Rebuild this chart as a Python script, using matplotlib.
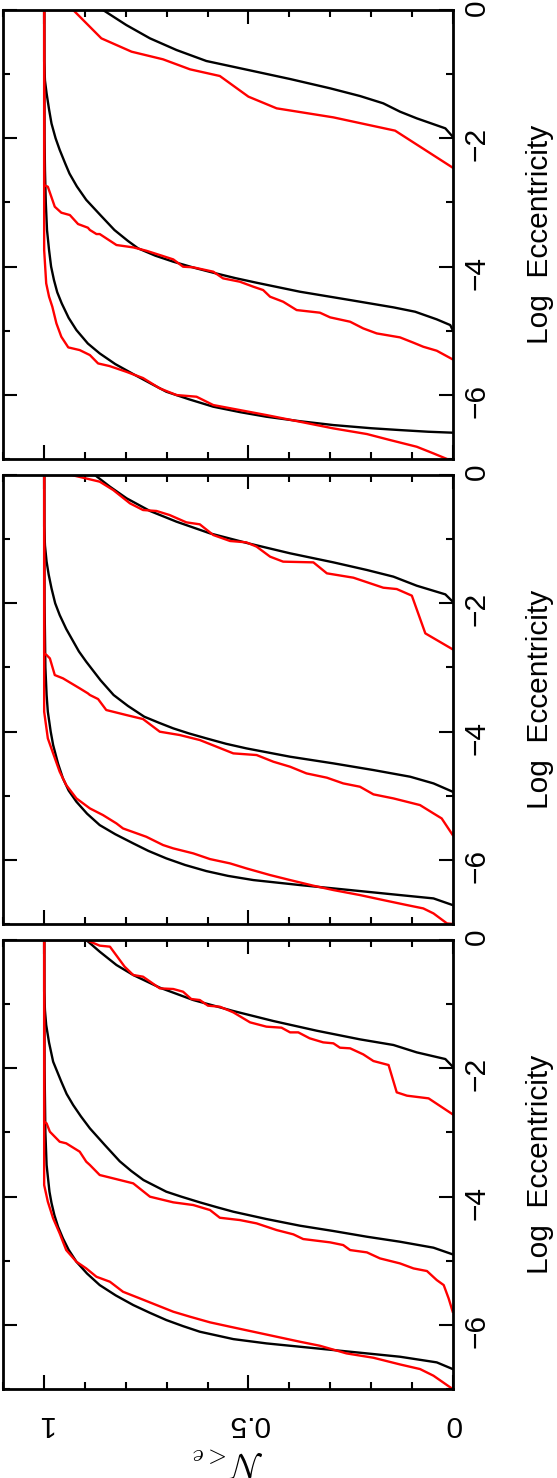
import numpy as np
import matplotlib.pyplot as plt
from matplotlib.ticker import MultipleLocator

plt.rcParams['font.family'] = ['Liberation Sans', 'DejaVu Sans']
plt.rcParams['mathtext.fontset'] = 'cm'

# each curve is a list of (log eccentricity, N(<e)) pairs
# panels listed top -> bottom as they appear in the (rotated) page

# ---- top panel
top_black_a = [(0, 0.856), (-0.234, 0.799), (-0.442, 0.741), (-0.624, 0.676), (-0.795, 0.603),
               (-0.936, 0.500), (-1.076, 0.398), (-1.221, 0.300), (-1.341, 0.227), (-1.455, 0.170),
               (-1.585, 0.129), (-1.689, 0.088), (-1.845, 0.018), (-1.975, 0.0)]
top_red_a = [(0, 1.0), (0, 0.929), (-0.442, 0.860), (-0.650, 0.786), (-0.769, 0.709), (-0.925, 0.643),
             (-1.029, 0.570), (-1.351, 0.500), (-1.533, 0.431), (-1.674, 0.292), (-1.881, 0.141),
             (-2.458, 0.0)]
top_black_b = [(0, 1.0), (-0.8, 1.0), (-1.1, 0.998), (-1.30, 0.994), (-1.55, 0.988), (-1.77, 0.982),
               (-2.0, 0.972), (-2.18, 0.962), (-2.4, 0.948), (-2.55, 0.938), (-2.75, 0.92), (-2.96, 0.897),
               (-3.2, 0.862), (-3.43, 0.828), (-3.6, 0.795), (-3.716, 0.77), (-3.83, 0.728), (-3.924, 0.684),
               (-4.02, 0.632), (-4.096, 0.586), (-4.18, 0.532), (-4.252, 0.480), (-4.392, 0.374),
               (-4.522, 0.251), (-4.636, 0.145), (-4.704, 0.092), (-4.823, 0.039), (-4.912, 0.006),
               (-4.99, 0.0)]
top_red_b = [(0, 1.0), (-2.73, 1.0), (-2.755, 0.991), (-3.067, 0.974), (-3.16, 0.958), (-3.197, 0.937),
             (-3.337, 0.917), (-3.394, 0.893), (-3.43, 0.888), (-3.493, 0.872), (-3.493, 0.864),
             (-3.664, 0.823), (-3.701, 0.782), (-3.753, 0.750), (-3.820, 0.717), (-3.888, 0.684),
             (-4.002, 0.660), (-4.012, 0.635), (-4.080, 0.586), (-4.184, 0.562), (-4.236, 0.521),
             (-4.314, 0.488), (-4.366, 0.464), (-4.470, 0.447), (-4.548, 0.415), (-4.678, 0.382),
             (-4.719, 0.325), (-4.792, 0.300), (-4.860, 0.251), (-4.964, 0.219), (-5.042, 0.186),
             (-5.104, 0.129), (-5.187, 0.096), (-5.250, 0.072), (-5.312, 0.039), (-5.447, 0.0)]
top_black_c = [(0, 1.0), (-2.0, 0.999), (-2.5, 0.998), (-3.0, 0.996), (-3.43, 0.993), (-3.742, 0.988),
               (-4.0, 0.983), (-4.21, 0.976), (-4.4, 0.968), (-4.574, 0.957), (-4.8, 0.94), (-4.99, 0.921),
               (-5.2, 0.893), (-5.354, 0.864), (-5.52, 0.826), (-5.676, 0.782), (-5.82, 0.74),
               (-5.951, 0.701), (-6.07, 0.645), (-6.185, 0.586), (-6.27, 0.52), (-6.341, 0.456),
               (-6.41, 0.375), (-6.471, 0.292), (-6.52, 0.2), (-6.549, 0.129), (-6.575, 0.06),
               (-6.59, 0.0)]
top_red_c = [(0, 1.0), (-3.742, 1.0), (-4.262, 0.995), (-4.470, 0.988), (-4.626, 0.980), (-4.886, 0.970),
             (-5.094, 0.958), (-5.260, 0.941), (-5.302, 0.913), (-5.380, 0.888), (-5.510, 0.868),
             (-5.551, 0.840), (-5.640, 0.799), (-5.738, 0.758), (-5.899, 0.717), (-6.003, 0.676),
             (-6.029, 0.627), (-6.159, 0.586), (-6.237, 0.521), (-6.315, 0.456), (-6.419, 0.374),
             (-6.523, 0.292), (-6.611, 0.210), (-6.705, 0.153), (-6.809, 0.088), (-6.913, 0.047),
             (-7.0, 0.014)]

# ---- middle panel
mid_black_a = [(0, 0.876), (-0.182, 0.839), (-0.364, 0.798), (-0.561, 0.741), (-0.728, 0.676),
               (-0.910, 0.594), (-1.066, 0.500), (-1.221, 0.398), (-1.362, 0.292), (-1.481, 0.210),
               (-1.585, 0.145), (-1.726, 0.088), (-1.861, 0.018), (-1.975, 0.0)]
mid_red_a = [(0, 1.0), (0, 0.933), (-0.104, 0.864), (-0.234, 0.831), (-0.442, 0.790), (-0.546, 0.758),
             (-0.561, 0.725), (-0.624, 0.693), (-0.738, 0.652), (-0.769, 0.619), (-0.936, 0.586),
             (-1.029, 0.545), (-1.050, 0.505), (-1.117, 0.480), (-1.273, 0.447), (-1.351, 0.415),
             (-1.362, 0.341), (-1.533, 0.308), (-1.601, 0.243), (-1.757, 0.170), (-1.778, 0.137),
             (-1.881, 0.100), (-2.469, 0.067), (-2.718, 0.0)]
mid_black_b = [(0, 1.0), (-0.8, 1.0), (-1.1, 0.998), (-1.351, 0.994), (-1.55, 0.989), (-1.767, 0.982),
               (-2.0, 0.973), (-2.183, 0.962), (-2.4, 0.946), (-2.547, 0.933), (-2.75, 0.915),
               (-2.911, 0.897), (-3.2, 0.862), (-3.43, 0.83), (-3.6, 0.795), (-3.768, 0.755),
               (-3.86, 0.72), (-3.950, 0.684), (-4.03, 0.645), (-4.106, 0.603), (-4.19, 0.555),
               (-4.262, 0.505), (-4.392, 0.398), (-4.496, 0.292), (-4.600, 0.194), (-4.704, 0.104),
               (-4.808, 0.047), (-4.938, 0.0)]
mid_red_b = [(0, 1.0), (-2.78, 1.0), (-2.807, 0.994), (-2.859, 0.986), (-3.119, 0.974), (-3.170, 0.954),
             (-3.326, 0.913), (-3.404, 0.893), (-3.43, 0.888), (-3.493, 0.868), (-3.664, 0.848),
             (-3.742, 0.799), (-3.805, 0.758), (-4.002, 0.717), (-4.054, 0.668), (-4.132, 0.619),
             (-4.236, 0.578), (-4.340, 0.537), (-4.366, 0.480), (-4.470, 0.439), (-4.548, 0.398),
             (-4.652, 0.358), (-4.719, 0.308), (-4.808, 0.268), (-4.860, 0.227), (-4.979, 0.194),
             (-5.042, 0.145), (-5.146, 0.080), (-5.276, 0.047), (-5.354, 0.027), (-5.613, 0.0)]
mid_black_c = [(0, 1.0), (-2.0, 0.999), (-2.5, 0.998), (-3.0, 0.997), (-3.43, 0.994), (-3.69, 0.991),
               (-4.0, 0.984), (-4.21, 0.978), (-4.5, 0.966), (-4.730, 0.954), (-4.92, 0.94), (-5.094, 0.921),
               (-5.28, 0.895), (-5.458, 0.864), (-5.6, 0.826), (-5.743, 0.782), (-5.86, 0.745),
               (-5.977, 0.701), (-6.08, 0.655), (-6.175, 0.603), (-6.25, 0.55), (-6.315, 0.488),
               (-6.393, 0.374), (-6.471, 0.251), (-6.549, 0.129), (-6.601, 0.047), (-6.705, 0.0)]
mid_red_c = [(0, 1.0), (-3.69, 1.0), (-4.106, 0.991), (-4.340, 0.978), (-4.626, 0.962), (-4.834, 0.946),
             (-5.042, 0.921), (-5.198, 0.888), (-5.302, 0.856), (-5.432, 0.823), (-5.510, 0.807),
             (-5.640, 0.750), (-5.769, 0.709), (-5.821, 0.684), (-5.899, 0.635), (-5.988, 0.594),
             (-6.055, 0.545), (-6.133, 0.505), (-6.237, 0.447), (-6.315, 0.398), (-6.403, 0.341),
             (-6.471, 0.292), (-6.549, 0.227), (-6.627, 0.170), (-6.705, 0.112), (-6.757, 0.072),
             (-6.835, 0.047), (-6.991, 0.014), (-7.0, 0.0)]

# ---- bottom panel
bot_black_a = [(0, 0.897), (-0.182, 0.864), (-0.390, 0.823), (-0.546, 0.782), (-0.743, 0.717),
               (-0.936, 0.635), (-1.107, 0.537), (-1.263, 0.439), (-1.414, 0.333), (-1.549, 0.227),
               (-1.637, 0.145), (-1.752, 0.088), (-1.856, 0.018), (-1.975, 0.0)]
bot_red_a = [(0, 1.0), (0, 0.897), (-0.088, 0.864), (-0.104, 0.839), (-0.416, 0.803), (-0.546, 0.782),
             (-0.572, 0.758), (-0.754, 0.717), (-0.764, 0.684), (-0.806, 0.660), (-0.920, 0.640),
             (-0.936, 0.619), (-1.024, 0.599), (-1.040, 0.570), (-1.128, 0.537), (-1.284, 0.496),
             (-1.351, 0.456), (-1.367, 0.419), (-1.440, 0.398), (-1.440, 0.378), (-1.533, 0.350),
             (-1.596, 0.317), (-1.611, 0.292), (-1.679, 0.276), (-1.689, 0.251), (-1.783, 0.219),
             (-1.887, 0.194), (-1.949, 0.157), (-2.375, 0.137), (-2.427, 0.112), (-2.469, 0.059),
             (-2.718, 0.0)]
bot_black_b = [(0, 1.0), (-0.8, 1.0), (-1.1, 0.998), (-1.325, 0.995), (-1.6, 0.988), (-1.897, 0.978),
               (-2.209, 0.958), (-2.4, 0.945), (-2.573, 0.929), (-2.75, 0.91), (-2.937, 0.888),
               (-3.2, 0.851), (-3.45, 0.815), (-3.6, 0.787), (-3.742, 0.757), (-3.83, 0.73),
               (-3.924, 0.701), (-4.0, 0.665), (-4.090, 0.619), (-4.17, 0.575), (-4.236, 0.537),
               (-4.350, 0.456), (-4.454, 0.374), (-4.537, 0.292), (-4.626, 0.210), (-4.704, 0.129),
               (-4.797, 0.047), (-4.901, 0.0)]
bot_red_b = [(0, 1.0), (-2.83, 1.0), (-2.859, 0.994), (-2.989, 0.986), (-3.145, 0.962), (-3.170, 0.946),
             (-3.300, 0.913), (-3.456, 0.897), (-3.508, 0.888), (-3.664, 0.864), (-3.716, 0.831),
             (-3.794, 0.782), (-4.002, 0.741), (-4.090, 0.684), (-4.132, 0.635), (-4.210, 0.594),
             (-4.330, 0.570), (-4.366, 0.521), (-4.418, 0.480), (-4.522, 0.431), (-4.589, 0.390),
             (-4.662, 0.366), (-4.714, 0.300), (-4.756, 0.268), (-4.834, 0.251), (-4.870, 0.210),
             (-4.964, 0.178), (-5.042, 0.129), (-5.120, 0.096), (-5.161, 0.063), (-5.302, 0.039),
             (-5.380, 0.022), (-5.587, 0.010), (-5.795, 0.0)]
bot_black_c = [(0, 1.0), (-2.0, 0.999), (-2.5, 0.998), (-3.0, 0.997), (-3.508, 0.994), (-3.924, 0.987),
               (-4.1, 0.982), (-4.288, 0.975), (-4.47, 0.966), (-4.652, 0.954), (-4.83, 0.94),
               (-5.016, 0.921), (-5.2, 0.895), (-5.380, 0.864), (-5.54, 0.825), (-5.691, 0.782),
               (-5.81, 0.742), (-5.925, 0.701), (-6.02, 0.66), (-6.107, 0.619), (-6.222, 0.537),
               (-6.289, 0.456), (-6.341, 0.374), (-6.393, 0.292), (-6.445, 0.210), (-6.497, 0.129),
               (-6.585, 0.039), (-6.689, 0.0)]
bot_red_c = [(0, 1.0), (-3.820, 1.0), (-4.080, 0.991), (-4.340, 0.978), (-4.574, 0.962), (-4.834, 0.946),
             (-5.016, 0.921), (-5.120, 0.897), (-5.250, 0.872), (-5.328, 0.839), (-5.484, 0.807),
             (-5.587, 0.766), (-5.691, 0.725), (-5.795, 0.684), (-5.873, 0.643), (-5.961, 0.594),
             (-6.029, 0.545), (-6.107, 0.488), (-6.185, 0.431), (-6.263, 0.374), (-6.326, 0.325),
             (-6.445, 0.260), (-6.513, 0.194), (-6.617, 0.129), (-6.689, 0.080), (-6.793, 0.047),
             (-6.939, 0.014), (-7.0, 0.0)]

panels = [
    [top_black_a, top_black_b, top_black_c, top_red_a, top_red_b, top_red_c],
    [mid_black_a, mid_black_b, mid_black_c, mid_red_a, mid_red_b, mid_red_c],
    [bot_black_a, bot_black_b, bot_black_c, bot_red_a, bot_red_b, bot_red_c],
]
n_ticks = [1, 0.5, 0]
n_ticklabels = ['1', '0.5', '0']

W, H = 557.0, 1478.0
panel_tops = [10, 475, 940]   # pixel rows of the panel tops
FS = 21.5


def draw_panel(fig, top, curves, last):
    ax = fig.add_axes([3.3 / W, 1 - (top + 449) / H, 449.4 / W, 449 / H])
    for k, c in enumerate(curves):
        loge, n = np.array(c).T
        col = 'black' if k < 3 else '#ff0000'
        ax.plot(n, loge, color=col, lw=1.7, solid_joinstyle='round')

    ax.set_xlim(1.1, 0)
    ax.set_ylim(-7, 0)
    ax.set_xticks(n_ticks, labels=n_ticklabels)
    ax.xaxis.set_minor_locator(MultipleLocator(0.1))
    ax.yaxis.set_major_locator(MultipleLocator(2))
    ax.yaxis.set_minor_locator(MultipleLocator(1))
    ax.tick_params(which='both', direction='in', top=True, bottom=True, left=True, right=True,
                   labelleft=False, labelright=True, width=1.5)
    ax.tick_params(which='major', length=10)
    ax.tick_params(which='minor', length=5)
    ax.tick_params(axis='y', labelrotation=90, labelsize=FS, pad=7)
    for s in ax.spines.values():
        s.set_linewidth(2)

    ax.yaxis.set_label_position('right')
    ax.set_ylabel('Log  Eccentricity', fontsize=FS, rotation=90)
    ax.yaxis.set_label_coords(1.194, 0.5)
    ax.yaxis.label.set_va('center')

    if last:
        ax.tick_params(axis='x', labelrotation=180, labelsize=FS, pad=15)
        ax.set_xlabel(r'$\mathcal{N}_{<e}$', fontsize=25, rotation=180)
        ax.xaxis.set_label_coords(0.5, -0.163)
        ax.xaxis.label.set_va('center')
    else:
        ax.tick_params(axis='x', labelbottom=False)
    return ax


fig = plt.figure(figsize=(W / 100, H / 100), dpi=100)
for i, (top, curves) in enumerate(zip(panel_tops, panels)):
    draw_panel(fig, top, curves, i == len(panels) - 1)

fig.savefig('out.png', dpi=100)
